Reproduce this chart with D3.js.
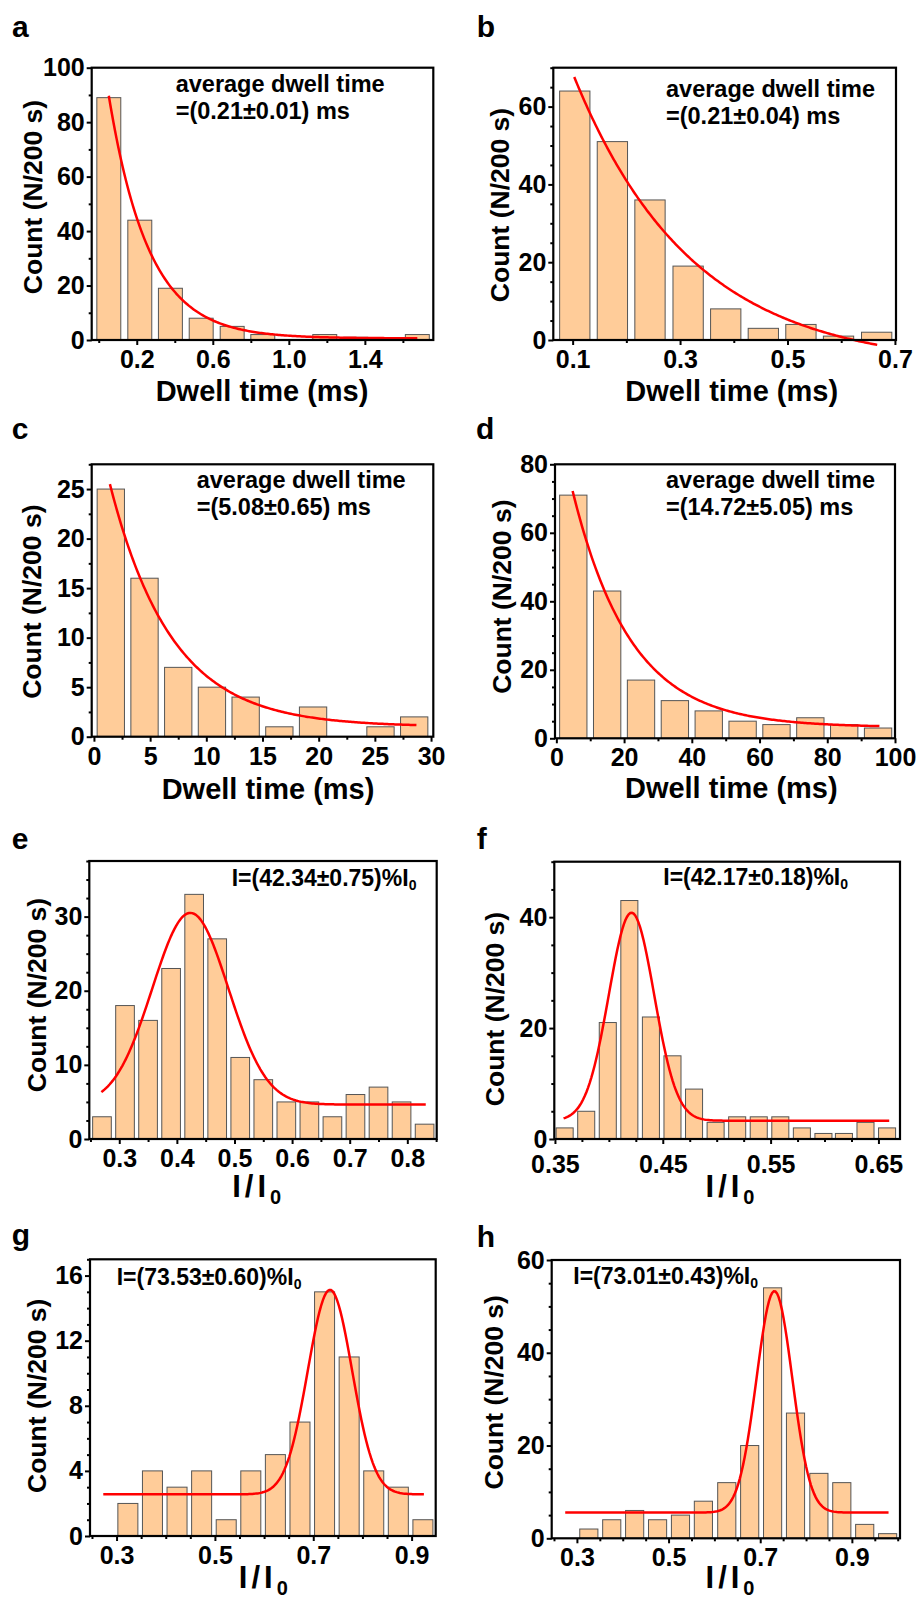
<!DOCTYPE html>
<html>
<head>
<meta charset="utf-8">
<script src="https://cdn.jsdelivr.net/npm/d3@7"></script>
<style>
  body { margin: 0; background: #fff; }
  svg text { font-family: "Liberation Sans", Arial, sans-serif; font-weight: bold; fill: #000; }
  .bar { fill: #ffcc99; stroke: #555; stroke-width: 1; }
  .fit { fill: none; stroke: #ff0000; stroke-width: 2.5; }
  .frame { fill: none; stroke: #000; stroke-width: 2.2; }
  .axis line { stroke: #000; stroke-width: 2; }
  .axis text { font-size: 25px; }
  .letter { font-size: 30px; }
  .ylab { font-size: 26.5px; }
  .xlab { font-size: 29px; }
  .note { font-size: 23.5px; }
  .inote { font-size: 23px; }
</style>
</head>
<body>
<svg id="fig" width="920" height="1601"></svg>
<script>
// ---- values ----
const aBins = [0.053, 0.216, 0.377, 0.539, 0.702, 0.863, 1.025, 1.189, 1.352, 1.513, 1.676];
const aCounts = [89, 44, 19, 8, 5, 2, 0, 2, 1, 0, 2];
const aFit = [0.053, 1.676, 89.1, 0.21, 0.6]; // start, end, amplitude, tau, offset
const aXTicks = [0.2, 0.6, 1.0, 1.4];
const aYTicks = [0, 20, 40, 60, 80, 100];
const aNote = ['average dwell time', '=(0.21\u00b10.01) ms'];

const bBins = [0.104, 0.174, 0.244, 0.315, 0.385, 0.455, 0.525, 0.595, 0.666];
const bCounts = [64, 51, 36, 19, 8, 3, 4, 1, 2];
const bFit = [0.103, 0.667, 74.6, 0.22, -7];
const bXTicks = [0.1, 0.3, 0.5, 0.7];
const bYTicks = [0, 20, 40, 60];
const bNote = ['average dwell time', '=(0.21\u00b10.04) ms'];

const cBins = [1.5, 4.5, 7.5, 10.5, 13.5, 16.5, 19.5, 22.5, 25.5, 28.5];
const cCounts = [25, 16, 7, 5, 4, 1, 3, 0, 1, 2];
const cFit = [1.42, 28.7, 24.5, 5.5, 1.0];
const cXTicks = [0, 5, 10, 15, 20, 25, 30];
const cYTicks = [0, 5, 10, 15, 20, 25];
const cNote = ['average dwell time', '=(5.08\u00b10.65) ms'];

const dBins = [5, 15, 25, 35, 45, 55, 65, 75, 85, 95];
const dCounts = [71, 43, 17, 11, 8, 5, 4, 6, 4, 3];
const dFit = [4.8, 95.4, 69, 17.2, 3.2];
const dXTicks = [0, 20, 40, 60, 80, 100];
const dYTicks = [0, 20, 40, 60, 80];
const dNote = ['average dwell time', '=(14.72\u00b15.05) ms'];

const eBins = [0.27, 0.31, 0.35, 0.39, 0.43, 0.47, 0.51, 0.55, 0.59, 0.63, 0.67, 0.71, 0.75, 0.79, 0.83];
const eCounts = [3, 18, 16, 23, 33, 27, 11, 8, 5, 5, 3, 6, 7, 5, 2];
const eFit = [0.269, 0.832, 25.85, 0.4234, 0.066, 4.65]; // start, end, amplitude, centre, sigma, offset
const eXTicks = [0.3, 0.4, 0.5, 0.6, 0.7, 0.8];
const eYTicks = [0, 10, 20, 30];
const eNote = 'I=(42.34\u00b10.75)%I';

const fBins = [0.359, 0.379, 0.399, 0.419, 0.439, 0.459, 0.479, 0.499, 0.519, 0.539, 0.559, 0.579, 0.599, 0.618, 0.638, 0.658];
const fCounts = [2, 5, 21, 43, 22, 15, 9, 3, 4, 4, 4, 2, 1, 1, 3, 2];
const fFit = [0.358, 0.66, 37.5, 0.421, 0.021, 3.3];
const fXTicks = [0.35, 0.45, 0.55, 0.65];
const fYTicks = [0, 20, 40];
const fNote = 'I=(42.17\u00b10.18)%I';

const gBins = [0.323, 0.373, 0.423, 0.473, 0.523, 0.573, 0.623, 0.673, 0.723, 0.773, 0.823, 0.873, 0.923];
const gCounts = [2, 4, 3, 4, 1, 4, 5, 7, 15, 11, 4, 3, 1];
const gFit = [0.273, 0.925, 12.56, 0.734, 0.045, 2.56];
const gXTicks = [0.3, 0.5, 0.7, 0.9];
const gYTicks = [0, 4, 8, 12, 16];
const gNote = 'I=(73.53\u00b10.60)%I';

const hBins = [0.326, 0.376, 0.426, 0.476, 0.526, 0.576, 0.627, 0.677, 0.727, 0.777, 0.828, 0.878, 0.928, 0.978];
const hCounts = [2, 4, 6, 4, 5, 8, 12, 20, 54, 27, 14, 12, 3, 1];
const hFit = [0.2745, 0.98, 47.75, 0.731, 0.039, 5.55];
const hXTicks = [0.3, 0.5, 0.7, 0.9];
const hYTicks = [0, 20, 40, 60];
const hNote = 'I=(73.01\u00b10.43)%I';

const YLABEL = 'Count (N/200 s)';
const DWELL = 'Dwell time (ms)';

// ---- layout: frame [left, right, top, bottom] in page pixels ----
const panels = [
  { id: 'a', kind: 'exp', bins: aBins, counts: aCounts, fit: aFit, xTicks: aXTicks, yTicks: aYTicks, note: aNote,
    box: [91.7, 433.3, 67.7, 340], xDom: [-0.037, 1.76], yDom: [0, 100], barW: 0.126, xFmt: '.1f', xPad: 5,
    xMinor: 0.2, yMinor: 10, letter: [12, 36.7], yLab: [41.5, 197], xLab: [262, 401], notePos: [175.7, 92] },
  { id: 'b', kind: 'exp', bins: bBins, counts: bCounts, fit: bFit, xTicks: bXTicks, yTicks: bYTicks, note: bNote,
    box: [553.3, 896, 67.7, 340], xDom: [0.064, 0.702], yDom: [0, 70], barW: 0.0564, xFmt: '.1f', xPad: 5,
    xMinor: 0.1, yMinor: 5, letter: [476.7, 36.7], yLab: [509.3, 205], xLab: [731.7, 401], notePos: [666, 97.3] },
  { id: 'c', kind: 'exp', bins: cBins, counts: cCounts, fit: cFit, xTicks: cXTicks, yTicks: cYTicks, note: cNote,
    box: [91.7, 433.3, 464.3, 736.7], xDom: [-0.2, 30.2], yDom: [0, 27.5], barW: 2.43, xFmt: 'd', xPad: 6,
    xMinor: 2.5, yMinor: 2.5, letter: [11.7, 439.3], yLab: [40.7, 601.7], xLab: [268, 799.3], notePos: [196.7, 488.3] },
  { id: 'd', kind: 'exp', bins: dBins, counts: dCounts, fit: dFit, xTicks: dXTicks, yTicks: dYTicks, note: dNote,
    box: [555, 895, 464.3, 738.3], xDom: [-0.4, 100], yDom: [0, 80], barW: 8.07, xFmt: 'd', xPad: 5,
    xMinor: 10, yMinor: 5, letter: [476, 439.3], yLab: [510.7, 596.7], xLab: [731.3, 798.3], notePos: [666, 488.3] },
  { id: 'e', kind: 'gauss', bins: eBins, counts: eCounts, fit: eFit, xTicks: eXTicks, yTicks: eYTicks, note: eNote,
    box: [89.3, 436.7, 861, 1139], xDom: [0.248, 0.851], yDom: [0, 37.5], barW: 0.0324, xFmt: '.1f', xPad: 5,
    xMinor: 0.05, yMinor: 2.5, letter: [11.7, 849.3], yLab: [46, 995], xLab: [256.7, 1197], notePos: [231.7, 886] },
  { id: 'f', kind: 'gauss', bins: fBins, counts: fCounts, fit: fFit, xTicks: fXTicks, yTicks: fYTicks, note: fNote,
    box: [554.3, 900, 861.7, 1139], xDom: [0.3494, 0.670], yDom: [0, 50], barW: 0.0158, xFmt: '.2f', xPad: 11,
    xMinor: 0.025, yMinor: 5, letter: [476.7, 849.3], yLab: [504.3, 1009], xLab: [730, 1197.3], notePos: [663.3, 885.3] },
  { id: 'g', kind: 'gauss', bins: gBins, counts: gCounts, fit: gFit, xTicks: gXTicks, yTicks: gYTicks, note: gNote,
    box: [90, 435.7, 1259.3, 1536], xDom: [0.246, 0.949], yDom: [0, 17], barW: 0.0407, xFmt: '.1f', xPad: 5,
    xMinor: 0.05, yMinor: 1, letter: [11.7, 1245], yLab: [45.7, 1395.8], xLab: [263.3, 1588], notePos: [116.7, 1285] },
  { id: 'h', kind: 'gauss', bins: hBins, counts: hCounts, fit: hFit, xTicks: hXTicks, yTicks: hYTicks, note: hNote,
    box: [551.7, 900, 1260, 1538.3], xDom: [0.245, 1.005], yDom: [0, 60], barW: 0.0396, xFmt: '.1f', xPad: 5,
    xMinor: 0.05, yMinor: 5, letter: [476.7, 1246.7], yLab: [502.7, 1392.3], xLab: [730, 1588], notePos: [573.3, 1284] }
];

const svg = d3.select('#fig');

const minorTicks = (dom, step, major) =>
  d3.range(Math.ceil(dom[0] / step - 1e-9), Math.floor(dom[1] / step + 1e-9) + 1)
    .map(i => +(i * step).toFixed(6))
    .filter(v => !major.some(m => Math.abs(m - v) < step / 10));

const drawPanel = function(p) {
  const [L, R, T, B] = p.box;
  const x = d3.scaleLinear().domain(p.xDom).range([L, R]);
  const y = d3.scaleLinear().domain(p.yDom).range([B, T]);
  const g = svg.append('g').attr('class', 'panel panel-' + p.id);

  const rows = p.bins.map((c, i) => ({ c, n: p.counts[i] })).filter(d => d.n > 0);
  g.selectAll('rect.bar')
    .data(rows)
    .join('rect')
    .attr('class', 'bar')
    .attr('x', d => x(d.c - p.barW / 2))
    .attr('width', d => x(d.c + p.barW / 2) - x(d.c - p.barW / 2))
    .attr('y', d => y(d.n))
    .attr('height', d => y(0) - y(d.n));

  // fitted curve, from the fit parameters
  const f = p.fit;
  const model = p.kind === 'exp'
    ? t => f[4] + f[2] * Math.exp(-(t - f[0]) / f[3])
    : t => f[5] + f[2] * Math.exp(-((t - f[3]) ** 2) / (2 * f[4] * f[4]));
  const ts = d3.range(201).map(i => f[0] + (f[1] - f[0]) * i / 200);
  g.append('path')
    .attr('class', 'fit')
    .attr('d', d3.line().x(t => x(t)).y(t => y(model(t)))(ts));

  // axes: major + minor ticks, outward
  const xAxis = g.append('g').attr('class', 'axis').attr('transform', `translate(0,${B})`);
  xAxis.call(d3.axisBottom(x).tickValues(p.xTicks).tickFormat(d3.format(p.xFmt)).tickSize(5).tickPadding(p.xPad));
  xAxis.append('g').call(d3.axisBottom(x).tickValues(minorTicks(p.xDom, p.xMinor, p.xTicks)).tickFormat('').tickSize(3));

  const yAxis = g.append('g').attr('class', 'axis').attr('transform', `translate(${L},0)`);
  yAxis.call(d3.axisLeft(y).tickValues(p.yTicks).tickFormat(d3.format('d')).tickSize(5).tickPadding(2));
  yAxis.append('g').call(d3.axisLeft(y).tickValues(minorTicks(p.yDom, p.yMinor, p.yTicks)).tickFormat('').tickSize(3));
  g.selectAll('.domain').remove();

  g.append('rect')
    .attr('class', 'frame')
    .attr('x', L).attr('y', T)
    .attr('width', R - L).attr('height', B - T);

  // labels
  g.append('text').attr('class', 'letter').attr('x', p.letter[0]).attr('y', p.letter[1]).text(p.id);

  g.append('text')
    .attr('class', 'ylab')
    .attr('text-anchor', 'middle')
    .attr('transform', `translate(${p.yLab[0]},${p.yLab[1]}) rotate(-90)`)
    .text(YLABEL);

  const xl = g.append('text')
    .attr('class', 'xlab')
    .attr('text-anchor', 'middle')
    .attr('x', p.xLab[0]).attr('y', p.xLab[1]);
  if (p.kind === 'exp') {
    xl.text(DWELL);
  } else {
    xl.append('tspan').attr('font-size', 31).attr('letter-spacing', 4).text('I/I');
    xl.append('tspan').attr('font-size', 20).attr('dy', 7).text('0');
  }

  if (p.kind === 'exp') {
    p.note.forEach((line, i) => {
      g.append('text')
        .attr('class', 'note')
        .attr('x', p.notePos[0])
        .attr('y', p.notePos[1] + i * 26.5)
        .text(line);
    });
  } else {
    const t = g.append('text').attr('class', 'inote').attr('x', p.notePos[0]).attr('y', p.notePos[1]);
    t.append('tspan').text(p.note);
    t.append('tspan').attr('font-size', 14).attr('dy', 4).text('0');
  }
};

panels.forEach(drawPanel);
</script>
</body>
</html>
